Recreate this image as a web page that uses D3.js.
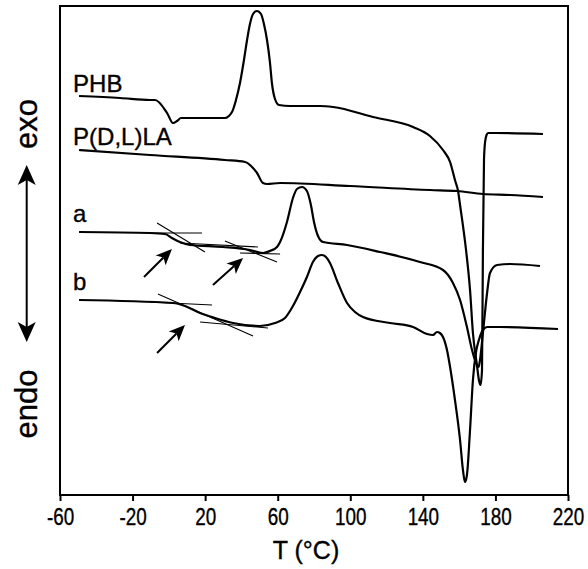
<!DOCTYPE html>
<html><head><meta charset="utf-8">
<script src="https://cdn.jsdelivr.net/npm/d3@7"></script>
<style>body{margin:0;background:#fff} text{stroke:#000;stroke-width:0.35px}</style>
</head><body>
<svg id="c" width="588" height="569"></svg>
<script>
// ---- data (T in °C, heat flow in arbitrary units, exo up) ----
const xTicks = [-60, -20, 20, 60, 100, 140, 180, 220];
const xLabel = "T (°C)";
const seriesNames = ["PHB", "P(D,L)LA", "a", "b"];

const phb = [[-49.5,399],[-26.9,397],[-10.4,395],[-7.6,395],[-1.0,382],[2.3,372],[4.5,374],[6.7,377],[30.9,377],[34.8,383],[37.0,395],[39.2,412],[41.4,435],[43.1,455],[44.7,471],[46.4,481],[48.6,484],[50.8,481],[52.4,471],[54.1,455],[55.7,433],[56.8,412],[58.5,396],[60.7,390],[66.8,389],[83.3,389],[90.5,388],[112.5,378],[134.6,368],[143.9,359],[151.1,345],[155.0,333],[157.7,315],[159.4,304],[160.5,290],[163.8,245],[166.0,205],[167.6,162],[169.8,130],[170.9,115],[171.8,110],[172.6,125],[173.1,245],[173.7,335],[174.3,353],[175.1,360],[175.9,362],[179.8,362],[206.2,361]];

const pdlla = [[-49.5,345],[-10.4,340],[30.9,335],[42.0,333],[45.3,329],[48.6,322],[51.9,312],[54.1,311],[61.3,312],[99.8,309],[143.9,305],[158.8,304],[173.1,301],[188.0,300],[206.2,298]];

const blendA = [[-49.5,263],[-10.4,262],[-2.1,261],[1.7,257],[6.1,253],[11.7,250],[29.8,248],[44.7,245],[51.9,242],[55.7,244],[59.6,248],[61.3,253],[65.1,273],[68.4,297],[70.6,306],[73.4,308],[76.1,304],[78.3,290],[80.0,273],[82.2,259],[85.0,253],[98.2,250],[116.4,243],[138.4,233],[151.1,225],[156.6,212],[160.5,195],[164.3,168],[167.1,145],[169.8,130],[170.7,128],[171.5,135],[173.1,162],[175.4,202],[177.0,222],[180.9,230],[188.0,231],[204.6,229]];

const blendB = [[-49.5,195],[2.3,192],[8.9,189],[17.2,182],[25.4,177],[35.4,172],[50.2,169],[58.5,172],[64.0,177],[68.4,189],[72.3,203],[76.1,218],[79.4,233],[82.2,239],[84.4,240],[86.6,238],[88.8,232],[93.2,212],[98.2,192],[102.6,183],[107.0,178],[121.9,172],[134.6,168],[142.3,161],[145.6,160],[147.8,163],[149.4,162],[151.1,158],[153.3,145],[155.0,128],[157.7,95],[160.5,55],[162.1,25],[163.2,13],[164.3,20],[166.0,65],[167.6,115],[169.3,143],[170.9,155],[173.1,165],[175.4,168],[182.5,168],[214.5,166]];

// Tg tangent constructions (pairs of points)
const tangents = [
  [[-10.4,262],[18.3,262]],
  [[-6.5,272],[19.9,243]],
  [[6.1,252],[49.1,248]],
  [[30.9,254],[59.6,233]],
  [[39.2,242],[61.3,241]],
  [[-10.4,193],[23.8,190]],
  [[-6.0,201],[46.4,159]],
  [[17.2,173],[54.6,167]]
];
// arrows pointing to Tg (tail -> tip)
const arrows = [
  [[-13.7,218],[1.7,246]],
  [[24.3,210],[40.9,237]],
  [[-6.5,142],[8.9,170]]
];
// curve labels [name, T, value at baseline]
const labels = [["PHB",-52.8,403],["P(D,L)LA",-52.8,350],["a",-52.8,273],["b",-52.8,205]];

// ---- drawing ----
const W = 588, H = 569;
const pLeft = 60, pRight = 568, pTop = 6, pBottom = 495;
const svg = d3.select("#c");
svg.append("rect").attr("width", W).attr("height", H).attr("fill", "#fff");
const font = "'Liberation Sans', Arial, Helvetica, sans-serif";

const x = d3.scaleLinear().domain([-60, 220]).range([pLeft, pRight]);
const y = d3.scaleLinear().domain([0, 489]).range([pBottom, pTop]);

// frame
svg.append("rect").attr("x", pLeft).attr("y", pTop)
  .attr("width", pRight - pLeft).attr("height", pBottom - pTop)
  .attr("fill", "none").attr("stroke", "#000").attr("stroke-width", 2);

// x axis
const ax = svg.append("g").attr("transform", `translate(0,${pBottom})`)
  .call(d3.axisBottom(x).tickValues(xTicks).tickSize(6).tickFormat(d => String(d)));
ax.select(".domain").remove();
ax.selectAll(".tick line").attr("stroke", "#000").attr("stroke-width", 2);
ax.selectAll(".tick text")
  .attr("y", 30).attr("dy", 0)
  .attr("font-family", font).attr("font-size", 23).attr("fill", "#000")
  .attr("transform", "scale(0.82,1)");

svg.append("text").attr("x", 306).attr("y", 559)
  .attr("text-anchor", "middle").attr("font-family", font).attr("font-size", 25)
  .text(xLabel);

// exo / endo labels and double arrow
svg.append("text").attr("transform", "translate(37,124) rotate(-90)")
  .attr("text-anchor", "middle").attr("font-family", font).attr("font-size", 31).text("exo");
svg.append("text").attr("transform", "translate(37,404) rotate(-90)")
  .attr("text-anchor", "middle").attr("font-family", font).attr("font-size", 31).text("endo");
const ax0 = 26.7, aTop = 165, aBot = 342;
svg.append("line").attr("x1", ax0).attr("x2", ax0).attr("y1", aTop + 10).attr("y2", aBot - 10)
  .attr("stroke", "#000").attr("stroke-width", 2);
svg.append("path").attr("d", `M${ax0},${aTop} L${ax0 + 9},${aTop + 20} L${ax0},${aTop + 15} L${ax0 - 9},${aTop + 20} Z`).attr("fill", "#000");
svg.append("path").attr("d", `M${ax0},${aBot} L${ax0 + 9},${aBot - 20} L${ax0},${aBot - 15} L${ax0 - 9},${aBot - 20} Z`).attr("fill", "#000");

// curves
const line = d3.line().x(d => x(d[0])).y(d => y(d[1])).curve(d3.curveMonotoneX);
[phb, pdlla, blendA, blendB].forEach(s => {
  svg.append("path").attr("d", line(s)).attr("fill", "none")
    .attr("stroke", "#000").attr("stroke-width", 2.2).attr("stroke-linejoin", "round");
});

// tangents
tangents.forEach(t => {
  svg.append("line").attr("x1", x(t[0][0])).attr("y1", y(t[0][1]))
    .attr("x2", x(t[1][0])).attr("y2", y(t[1][1]))
    .attr("stroke", "#000").attr("stroke-width", 1.1);
});

// arrows
arrows.forEach(a => {
  const x1 = x(a[0][0]), y1 = y(a[0][1]), x2 = x(a[1][0]), y2 = y(a[1][1]);
  const dx = x2 - x1, dy = y2 - y1, L = Math.hypot(dx, dy);
  const ux = dx / L, uy = dy / L, px = -uy, py = ux;
  const hl = 16, hw = 7, notch = 4;
  const bx = x2 - ux * hl, by = y2 - uy * hl;
  svg.append("line").attr("x1", x1).attr("y1", y1)
    .attr("x2", x2 - ux * (hl - notch)).attr("y2", y2 - uy * (hl - notch))
    .attr("stroke", "#000").attr("stroke-width", 2);
  svg.append("path").attr("d",
    `M${x2},${y2} L${bx + px * hw},${by + py * hw} L${x2 - ux * (hl - notch)},${y2 - uy * (hl - notch)} L${bx - px * hw},${by - py * hw} Z`)
    .attr("fill", "#000");
});

// curve labels
labels.forEach(l => {
  svg.append("text").attr("x", x(l[1])).attr("y", y(l[2]))
    .attr("font-family", font).attr("font-size", 24).text(l[0]);
});
</script>
</body></html>
